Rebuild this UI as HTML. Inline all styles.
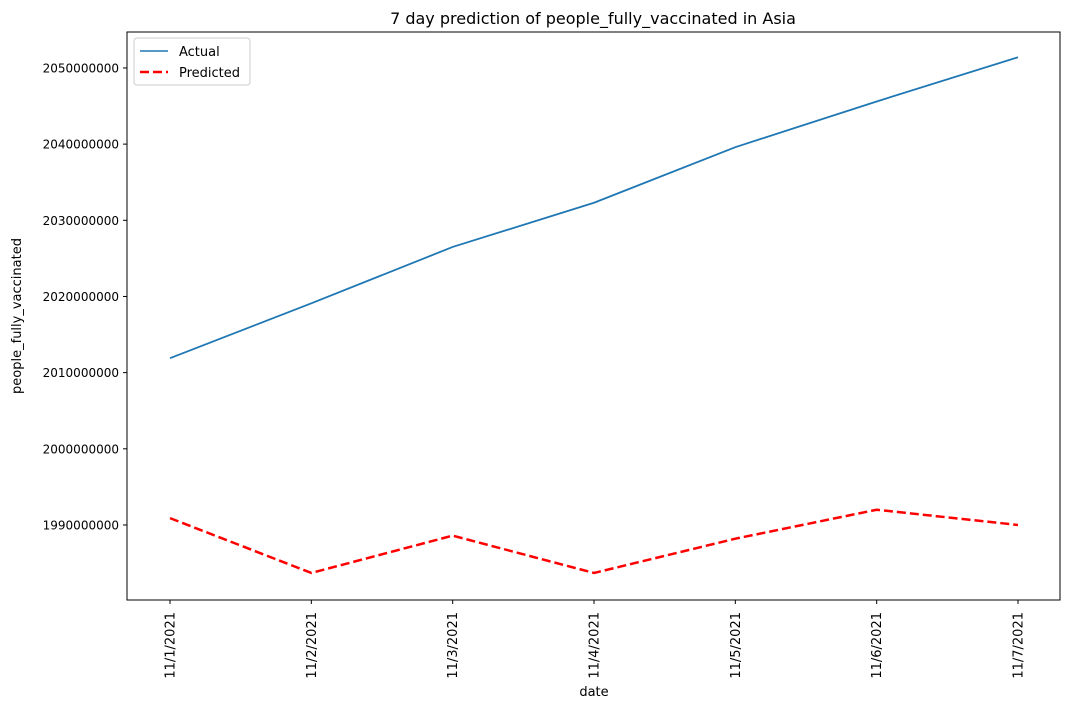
<!DOCTYPE html>
<html><head><meta charset="utf-8"><style>
body{margin:0;background:#fff;font-family:"Liberation Sans","DejaVu Sans",sans-serif;}
svg text{font-family:"DejaVu Sans","Liberation Sans",sans-serif;}
</style></head><body>
<svg id="chart" width="1070" height="709" xmlns="http://www.w3.org/2000/svg">
<rect x="0" y="0" width="1070" height="709" fill="#fff"/>
<text x="593" y="24" font-size="16" text-anchor="middle">7 day prediction of people_fully_vaccinated in Asia</text>
<g id="grid"></g>
<g id="series"></g>
<rect x="127" y="32" width="933" height="568" fill="none" stroke="#000" stroke-width="1"/>
<text x="594" y="696" font-size="13" text-anchor="middle">date</text>
<text transform="translate(21,316) rotate(-90)" font-size="13" text-anchor="middle">people_fully_vaccinated</text>
<g>
<rect x="134" y="38" width="116" height="47" rx="3" fill="#fff" stroke="#ccc" stroke-width="1"/>
<line x1="140" y1="51" x2="168" y2="51" stroke="#1f77b4" stroke-width="1.5"/>
<text x="179" y="56" font-size="13">Actual</text>
<line x1="140" y1="72" x2="168" y2="72" stroke="#ff0000" stroke-width="2.5" stroke-dasharray="9,4"/>
<text x="179" y="77" font-size="13">Predicted</text>
</g>
</svg>
<script>
const categories=["11/1/2021","11/2/2021","11/3/2021","11/4/2021","11/5/2021","11/6/2021","11/7/2021"];
const actualValues=[2011900000,2019100000,2026500000,2032300000,2039600000,2045600000,2051400000];
const predictedValues=[1990900000,1983700000,1988600000,1983700000,1988200000,1992000000,1990000000];
const yTicks=[1990000000,2000000000,2010000000,2020000000,2030000000,2040000000,2050000000];
const yMin=1980150000,yMax=2054720000;
const L=127,R=1060,T=32,B=600;
const xs=i=>170+i*(1018-170)/(categories.length-1);
const ys=v=>B-(v-yMin)/(yMax-yMin)*(B-T);
const NS="http://www.w3.org/2000/svg";
const g=document.getElementById('grid'),s=document.getElementById('series');
function mk(tag,attrs,parent){const e=document.createElementNS(NS,tag);for(const k in attrs)e.setAttribute(k,attrs[k]);parent.appendChild(e);return e;}
yTicks.forEach(v=>{const y=ys(v);
 const t=mk('line',{x1:L-4,x2:L,y1:y,y2:y,stroke:'#000'},g);
 
 
 const tx=mk('text',{x:L-8,y:y+4.5,'font-size':12,'text-anchor':'end'},g);tx.textContent=v;
 
 
});
categories.forEach((c,i)=>{const x=xs(i);
 const t=mk('line',{x1:x,x2:x,y1:B,y2:B+4,stroke:'#000'},g);
 
 
 const tx=mk('text',{transform:`translate(${x+4.5},${B+12}) rotate(-90)`,'font-size':13,'text-anchor':'end'},g);tx.textContent=c;
 
 
});
const pa=mk('polyline',{points:actualValues.map((v,i)=>xs(i)+','+ys(v)).join(' '),fill:'none',stroke:'#1f77b4','stroke-width':1.8},s);


const pp=mk('polyline',{points:predictedValues.map((v,i)=>xs(i)+','+ys(v)).join(' '),fill:'none',stroke:'#ff0000','stroke-width':2.5,'stroke-dasharray':'9,4'},s);


</script>
</body></html>
